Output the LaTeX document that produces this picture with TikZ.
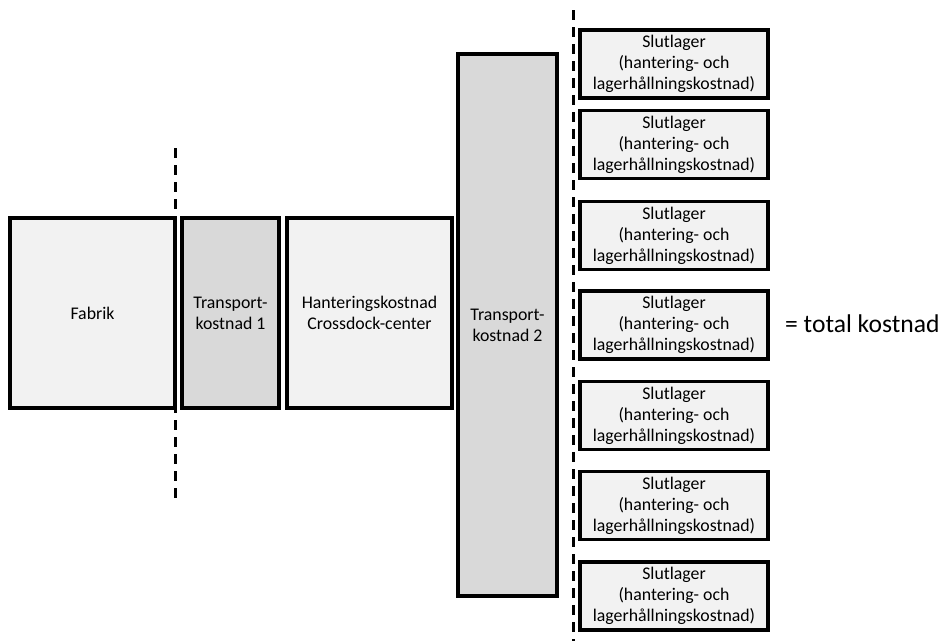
\documentclass[tikz,border=0pt]{standalone}
\usepackage{fontspec}
\setmainfont{Carlito}
\begin{document}
\begin{tikzpicture}[x=1pt,y=-1pt,
  costbox/.style={draw=black, line width=3.4pt, rectangle, align=center,
    font=\fontsize{17.8}{21}\selectfont, inner sep=0pt, outer sep=0pt},
  light/.style={costbox, fill=boxlight},
  dark/.style={costbox, fill=boxdark},
  storebox/.style={light, minimum width=188, minimum height=68},
  divider/.style={line width=3pt, dash pattern=on 10pt off 7pt}]
\definecolor{boxlight}{HTML}{F2F2F2}
\definecolor{boxdark}{HTML}{D9D9D9}
\useasboundingbox (0,0) rectangle (945,641);

% cost chain, left to right
\node[light, minimum width=165, minimum height=190] (fabrik) at (92.5,313) {Fabrik};
\node[dark, minimum width=97, minimum height=190] (trans1) at (230.5,313) {Transport-\\kostnad 1};
\node[light, minimum width=165, minimum height=190] (hant) at (369.5,313) {Hanteringskostnad\\Crossdock-center};
\node[dark, minimum width=99, minimum height=542] (trans2) at (507.5,325) {Transport-\\kostnad 2};

% end warehouses
\foreach \i/\y in {1/64, 2/144.5, 3/235.5, 4/325, 5/415.5, 6/505.5, 7/596}
  \node[storebox] (slut\i) at (674,\y) {Slutlager\\(hantering- och\\lagerhållningskostnad)};

\node[anchor=west, font=\fontsize{25.6}{30}\selectfont, inner sep=0pt] (total) at (785,324) {= total kostnad};

% system boundaries
\coordinate (d1top) at (175,148);
\coordinate (d1bot) at (175,498);
\coordinate (d2top) at (573,10);
\coordinate (d2bot) at (573,641);
\draw[divider] (d1top) -- (d1bot);
\draw[divider] (d2top) -- (d2bot);
\end{tikzpicture}
\end{document}
